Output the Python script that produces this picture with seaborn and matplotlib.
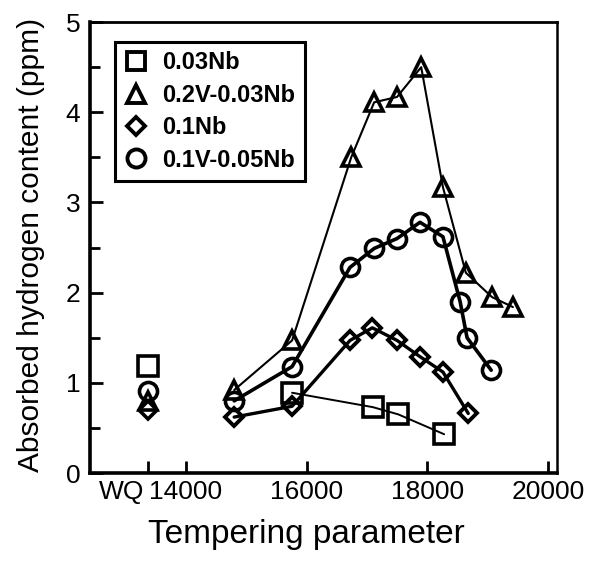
import matplotlib
matplotlib.use("Agg")
import matplotlib.pyplot as plt
import seaborn as sns
import pandas as pd
from matplotlib.lines import Line2D
from matplotlib.ticker import MultipleLocator

# ---- data ----
labels = ["0.03Nb", "0.2V-0.03Nb", "0.1Nb", "0.1V-0.05Nb"]
wq_x = 13370
wq_vals = [1.19, 0.80, 0.70, 0.91]  # square, triangle, diamond, circle at WQ

x_sq = [15760, 17100, 17520, 18280]
y_sq = [0.89, 0.73, 0.65, 0.43]

x_tri = [14800, 15760, 16740, 17120, 17500, 17900, 18260, 18640, 19075, 19420]
y_tri = [0.92, 1.47, 3.50, 4.11, 4.17, 4.50, 3.17, 2.22, 1.95, 1.84]

x_dia = [14800, 15760, 16720, 17090, 17500, 17880, 18260, 18680]
y_dia = [0.62, 0.74, 1.47, 1.61, 1.47, 1.29, 1.12, 0.66]

x_cir = [14800, 15760, 16720, 17120, 17500, 17880, 18260, 18545, 18660, 19060]
y_cir = [0.80, 1.18, 2.28, 2.49, 2.60, 2.78, 2.62, 1.90, 1.50, 1.14]

xticks = [13370, 14000, 16000, 18000, 20000]
xticklabels = ["", "14000", "16000", "18000", "20000"]

sns.set_style("ticks")
plt.rcParams["font.family"] = ["Liberation Sans", "DejaVu Sans"]
plt.rcParams["text.color"] = "black"
plt.rcParams["axes.labelcolor"] = "black"
plt.rcParams["xtick.color"] = "black"
plt.rcParams["ytick.color"] = "black"

fig = plt.figure(figsize=(5.9, 5.66), dpi=100)
ax = fig.add_axes([0.1525, 0.1643, 0.944 - 0.1525, 0.961 - 0.1643])

common = dict(color="black", markerfacecolor="none", markeredgecolor="black", ax=ax, sort=False)

series = [
    (x_sq, y_sq, "s", 14, 1.4, 2.6),
    (x_tri, y_tri, "^", 13, 1.5, 2.6),
    (x_dia, y_dia, "D", 9.5, 2.4, 2.8),
    (x_cir, y_cir, "o", 13, 2.6, 2.6),
]
for xs, ys, m, ms, lw, mew in series:
    df = pd.DataFrame({"x": xs, "y": ys})
    sns.lineplot(data=df, x="x", y="y", marker=m, markersize=ms, linewidth=lw,
                 markeredgewidth=mew, **common)

# WQ points (not connected)
wq_markers = ["s", "^", "D", "o"]
wq_sizes = [14, 13, 9.5, 13]
for v, m, ms in zip(wq_vals, wq_markers, wq_sizes):
    dfw = pd.DataFrame({"x": [wq_x], "y": [v]})
    sns.lineplot(data=dfw, x="x", y="y", marker=m, markersize=ms, linestyle="none",
                 markeredgewidth=2.6, **common)

ax.set_xlim(12410, 20150)
ax.set_ylim(0, 5)
ax.set_xticks(xticks)
ax.set_xticklabels(xticklabels)
ax.yaxis.set_major_locator(MultipleLocator(1))
ax.yaxis.set_minor_locator(MultipleLocator(0.5))
ax.tick_params(axis="both", which="major", direction="in", length=9, width=2,
               labelsize=19, color="black", labelcolor="black")
ax.tick_params(axis="y", which="minor", direction="in", length=7, width=2, color="black")
ax.tick_params(axis="x", which="major", pad=5)
ax.tick_params(axis="y", which="major", pad=7)
ax.annotate("WQ", xy=(12940, 0), xycoords=("data", "axes fraction"),
            xytext=(0, -5), textcoords="offset points", ha="center", va="top",
            fontsize=19, color="black")

for side in ["left", "right", "top", "bottom"]:
    ax.spines[side].set_visible(True)
    ax.spines[side].set_color("black")
ax.spines["left"].set_linewidth(2.6)
ax.spines["bottom"].set_linewidth(2.6)
ax.spines["top"].set_linewidth(2.0)
ax.spines["right"].set_linewidth(1.8)

ax.set_xlabel("Tempering parameter", fontsize=24, color="black")
ax.set_ylabel("Absorbed hydrogen content (ppm)", fontsize=21.5, color="black")
ax.xaxis.set_label_coords(0.4625, -0.103)
ax.yaxis.set_label_coords(-0.097, 0.5055)

handles = [
    Line2D([], [], marker="s", linestyle="none", markersize=13, markerfacecolor="none",
           markeredgecolor="black", markeredgewidth=2.8),
    Line2D([], [], marker="^", linestyle="none", markersize=13, markerfacecolor="none",
           markeredgecolor="black", markeredgewidth=2.8),
    Line2D([], [], marker="D", linestyle="none", markersize=9, markerfacecolor="none",
           markeredgecolor="black", markeredgewidth=2.8),
    Line2D([], [], marker="o", linestyle="none", markersize=13, markerfacecolor="none",
           markeredgecolor="black", markeredgewidth=2.8),
]
leg = ax.legend(handles, labels, loc="upper left", bbox_to_anchor=(0.054, 0.956),
                frameon=True, fancybox=False, edgecolor="black", framealpha=1,
                prop={"weight": "bold", "size": 17}, handlelength=1.0, handletextpad=0.6,
                labelspacing=0.4, borderpad=0.4, borderaxespad=0.0, labelcolor="black")
leg.get_frame().set_linewidth(2.2)

fig.savefig("out.png", dpi=100)
